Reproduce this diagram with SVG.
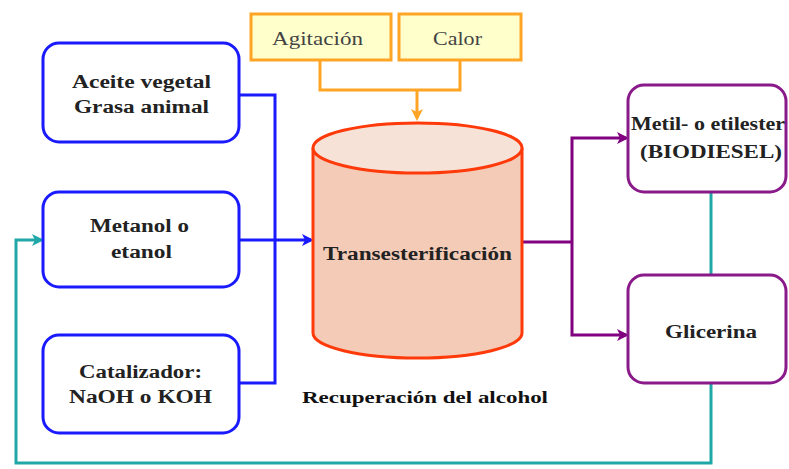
<svg xmlns="http://www.w3.org/2000/svg" width="789" height="469" viewBox="0 0 789 469" font-family="Liberation Serif, DejaVu Serif, serif">
<style>
.t{font-family:'Liberation Serif','DejaVu Serif',serif;font-weight:bold;font-size:18px;fill:#222;text-anchor:start}
.o{font-family:'Liberation Serif','DejaVu Serif',serif;font-size:18px;fill:#444;text-anchor:start}
.in{fill:#fff;stroke:#1a1aff;stroke-width:3}
.out{fill:#fff;stroke:#8a1a8a;stroke-width:3}
.or{fill:#ffffcc;stroke:#ffa526;stroke-width:3}
</style>
<defs>
<marker id="ab" markerWidth="4" markerHeight="4" refX="3" refY="2" orient="auto" markerUnits="strokeWidth"><path d="M0,0 L4,2 L0,4 L1,2 Z" fill="#1a1aff"/></marker>
<marker id="ap" markerWidth="4" markerHeight="4" refX="3" refY="2" orient="auto" markerUnits="strokeWidth"><path d="M0,0 L4,2 L0,4 L1,2 Z" fill="#800080"/></marker>
<marker id="at" markerWidth="4" markerHeight="4" refX="3" refY="2" orient="auto" markerUnits="strokeWidth"><path d="M0,0 L4,2 L0,4 L1,2 Z" fill="#20a8a8"/></marker>
<marker id="ao" markerWidth="4" markerHeight="4" refX="3" refY="2" orient="auto" markerUnits="strokeWidth"><path d="M0,0 L4,2 L0,4 L1,2 Z" fill="#ffa526"/></marker>
</defs>
<g id="connectors" fill="none">
<path d="M320,60 V90 H460 V60" stroke="#ffa526" stroke-width="3"/>
<path d="M417,90 V118" stroke="#ffa526" stroke-width="3" marker-end="url(#ao)"/>
<path d="M239,95 H275 V383 H239" stroke="#1a1aff" stroke-width="3"/>
<path d="M239,240 H311" stroke="#1a1aff" stroke-width="3" marker-end="url(#ab)"/>
<path d="M522,242 H572" stroke="#800080" stroke-width="3"/>
<path d="M572,242 V138 H626" stroke="#800080" stroke-width="3" marker-end="url(#ap)"/>
<path d="M572,242 V335 H626" stroke="#800080" stroke-width="3" marker-end="url(#ap)"/>
<path d="M711,192 V275" stroke="#20a8a8" stroke-width="3"/>
<path d="M711,383 V463 H16 V240 H41" stroke="#20a8a8" stroke-width="3" marker-end="url(#at)"/>
</g>
<g id="agitacion"><rect class="or" x="251" y="14" width="140" height="46"/><text class="o" x="272" y="45" textLength="91" lengthAdjust="spacingAndGlyphs">Agitación</text></g>
<g id="calor"><rect class="or" x="399" y="14" width="122" height="46"/><text class="o" x="433" y="45" textLength="49" lengthAdjust="spacingAndGlyphs">Calor</text></g>
<g id="aceite"><rect class="in" x="43" y="43" width="196" height="99" rx="16"/><text class="t" x="72" y="88" textLength="139" lengthAdjust="spacingAndGlyphs">Aceite vegetal</text><text class="t" x="74" y="113" textLength="135" lengthAdjust="spacingAndGlyphs">Grasa animal</text></g>
<g id="metanol"><rect class="in" x="43" y="192" width="196" height="95" rx="16"/><text class="t" x="90" y="232" textLength="99" lengthAdjust="spacingAndGlyphs">Metanol o</text><text class="t" x="111" y="258" textLength="61" lengthAdjust="spacingAndGlyphs">etanol</text></g>
<g id="catalizador"><rect class="in" x="43" y="335" width="196" height="98" rx="16"/><text class="t" x="79" y="378" textLength="123" lengthAdjust="spacingAndGlyphs">Catalizador:</text><text class="t" x="69" y="403" textLength="143" lengthAdjust="spacingAndGlyphs">NaOH o KOH</text></g>
<g id="transesterificacion">
<path d="M313,148 V333 A104.5,25 0 0 0 522,333 V148" fill="#f3cbb6" stroke="#ff3a0a" stroke-width="3"/>
<ellipse cx="417.5" cy="148" rx="104.5" ry="25" fill="#f7e2d8" stroke="#ff3a0a" stroke-width="3"/>
<text class="t" x="323" y="260" textLength="189" lengthAdjust="spacingAndGlyphs">Transesterificación</text>
</g>
<text class="t" x="302" y="403" style="font-size:16px;font-weight:900;fill:#111" textLength="246" lengthAdjust="spacingAndGlyphs">Recuperación del alcohol</text>
<g id="biodiesel"><rect class="out" x="628" y="85" width="158" height="107" rx="16"/><text class="t" x="631" y="130" textLength="154" lengthAdjust="spacingAndGlyphs">Metil- o etilester</text><text class="t" x="640" y="158" textLength="142" lengthAdjust="spacingAndGlyphs">(BIODIESEL)</text></g>
<g id="glicerina"><rect class="out" x="628" y="275" width="158" height="108" rx="16"/><text class="t" x="665" y="338" textLength="92" lengthAdjust="spacingAndGlyphs">Glicerina</text></g>
</svg>
